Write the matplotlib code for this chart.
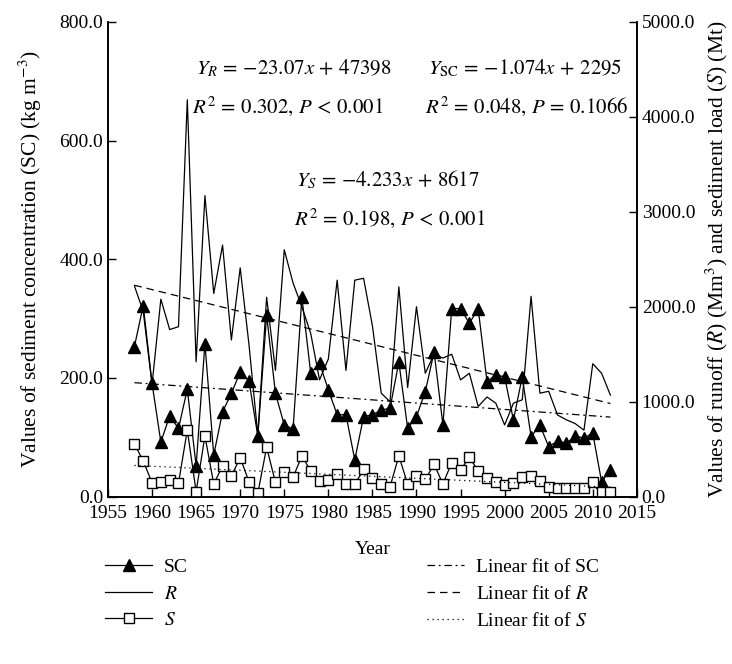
import numpy as np
import matplotlib
matplotlib.use('Agg')
import matplotlib.pyplot as plt
from matplotlib.lines import Line2D

plt.rcParams['font.family'] = ['Liberation Serif', 'DejaVu Serif']
plt.rcParams['mathtext.fontset'] = 'stix'

years = list(range(1958, 2013))

# sediment concentration (kg m-3), left axis
sc = [253, 322, 191, 92, 136, 115, 181, 52, 258, 70,
      143, 174, 210, 195, 102, 306, 174, 121, 114, 336,
      208, 225, 180, 138, 138, 62, 135, 138, 146, 149,
      227, 115, 135, 177, 244, 121, 317, 317, 292, 317,
      194, 205, 202, 129, 202, 101, 121, 84, 94, 90,
      102, 99, 107, 25, 45]

# runoff (Mm3), right axis
runoff = [2220, 1950, 1180, 2080, 1760, 1790, 4180, 1420, 3170, 2140,
          2650, 1650, 2410, 1600, 650, 2100, 1330, 2600, 2250, 2000,
          1720, 1230, 1450, 2280, 1330, 2280, 2300, 1800, 1090, 1000,
          2210, 1150, 2000, 1300, 1500, 1460, 1500, 1230, 1300, 950,
          1050, 985, 755, 985, 1020, 2110, 1090, 1110, 860, 810,
          770, 700, 1400, 1300, 1070]

# sediment load (Mt), right axis
sload = [555, 376, 147, 158, 176, 141, 702, 53, 639, 134,
         323, 218, 411, 158, 36, 520, 150, 263, 204, 430,
         270, 165, 172, 236, 130, 130, 288, 200, 130, 105,
         429, 134, 218, 183, 341, 134, 358, 283, 413, 273,
         193, 158, 123, 141, 211, 218, 169, 105, 88, 88,
         88, 88, 158, 53, 53]

fit_sc = (-1.074, 2295)
fit_r = (-23.07, 47398)
fit_s = (-4.233, 8617)

yr = np.array(years)

fig = plt.figure(figsize=(7.32, 6.64), dpi=100)
ax = fig.add_axes([0.1475, 0.252, 0.7225, 0.715])
ax2 = ax.twinx()

ax.plot(yr, sc, color='black', lw=0.9, marker='^', ms=8.5, mfc='black', mec='black', zorder=3)
ax2.plot(yr, runoff, color='black', lw=0.9)
ax2.plot(yr, sload, color='black', lw=0.9, marker='s', ms=7, mfc='white', mec='black')

ax.plot(yr, fit_sc[0] * yr + fit_sc[1], color='black', lw=0.9, ls=(0, (6, 3, 1.5, 3)))
ax2.plot(yr, fit_r[0] * yr + fit_r[1], color='black', lw=0.9, ls=(0, (6, 4)))
ax2.plot(yr, fit_s[0] * yr + fit_s[1], color='black', lw=0.9, ls=(0, (1, 3)))

ax.set_xlim(1955, 2015)
ax.set_ylim(0, 800)
ax2.set_ylim(0, 5000)
ax.set_xticks(range(1955, 2016, 5))
ax.set_yticks(range(0, 801, 200))
ax2.set_yticks(range(0, 5001, 1000))
ax.set_yticklabels(['%.1f' % v for v in range(0, 801, 200)])
ax2.set_yticklabels(['%.1f' % v for v in range(0, 5001, 1000)])

for a in (ax, ax2):
    a.spines['top'].set_visible(False)
    a.tick_params(direction='in', labelsize=14, length=6, width=1)
    for s in a.spines.values():
        s.set_linewidth(1.2)
ax.tick_params(axis='x', pad=6)

ax.set_xlabel('Year', fontsize=14, labelpad=14)
ax.set_ylabel('Values of sediment concentration (SC) (kg m$^{-3}$)', fontsize=15.5, labelpad=11)
ax2.set_ylabel('Values of runoff ($R$) (Mm$^3$) and sediment load ($S$) (Mt)', fontsize=15.5, labelpad=6)

eq = dict(fontsize=15, transform=fig.transFigure)
fig.text(0.268, 0.888, r'$Y_R\,=\,{-}23.07x\,+\,47398$', **eq)
fig.text(0.262, 0.830, r'$R^2\,=\,0.302,\,P\,<\,0.001$', **eq)
fig.text(0.585, 0.888, r'$Y_{\rm SC}\,=\,{-}1.074x\,+\,2295$', **eq)
fig.text(0.580, 0.830, r'$R^2\,=\,0.048,\,P\,=\,0.1066$', **eq)
fig.text(0.405, 0.720, r'$Y_S\,=\,{-}4.233x\,+\,8617$', **eq)
fig.text(0.402, 0.662, r'$R^2\,=\,0.198,\,P\,<\,0.001$', **eq)

h1 = [Line2D([], [], color='black', lw=0.9, marker='^', ms=8.5, mfc='black'),
      Line2D([], [], color='black', lw=0.9),
      Line2D([], [], color='black', lw=0.9, marker='s', ms=7, mfc='white')]
l1 = ['SC', '$R$', '$S$']
h2 = [Line2D([], [], color='black', lw=0.9, ls=(0, (6, 3, 1.5, 3))),
      Line2D([], [], color='black', lw=0.9, ls=(0, (6, 4))),
      Line2D([], [], color='black', lw=0.9, ls=(0, (1, 3)))]
l2 = ['Linear fit of SC', 'Linear fit of $R$', 'Linear fit of $S$']
fig.legend(h1, l1, loc='upper left', bbox_to_anchor=(0.12, 0.185), frameon=False,
           fontsize=14, handlelength=2.4, handletextpad=0.6, labelspacing=0.45)
fig.legend(h2, l2, loc='upper left', bbox_to_anchor=(0.56, 0.185), frameon=False,
           fontsize=14, handlelength=1.9, handletextpad=0.6, labelspacing=0.45)

fig.savefig('out.png', dpi=100)
